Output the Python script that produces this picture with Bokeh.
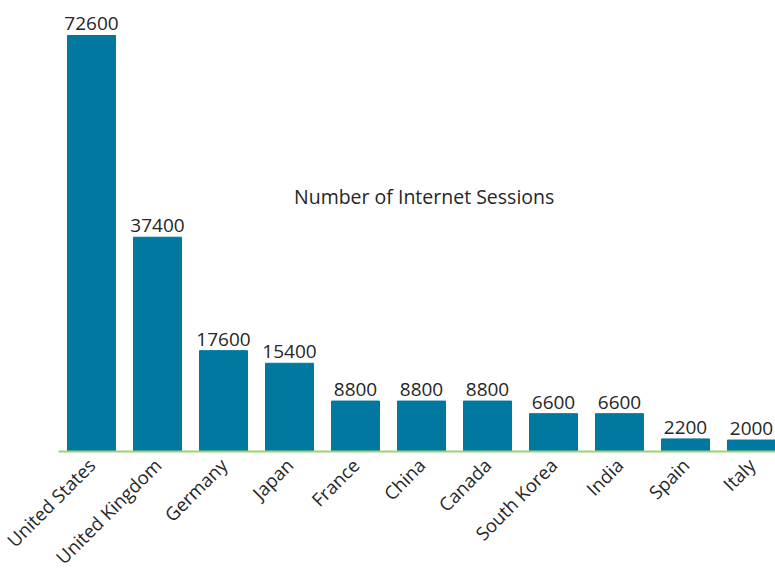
import math
from bokeh.plotting import figure
from bokeh.models import ColumnDataSource, FixedTicker, Range1d, Label, LabelSet
from bokeh.core.properties import value
from bokeh.embed import file_html
from bokeh.resources import INLINE

countries = ["United States", "United Kingdom", "Germany", "Japan", "France", "China",
             "Canada", "South Korea", "India", "Spain", "Italy"]
sessions = [72600, 37400, 17600, 15400, 8800, 8800, 8800, 6600, 6600, 2200, 2000]
title_text = "Number of Internet Sessions"

FONT = "Open Sans"
xs = list(range(len(countries)))
src = ColumnDataSource(dict(x=xs, y=sessions, lab=[str(v) for v in sessions]))

p = figure(frame_width=717, frame_height=443, output_backend="svg", toolbar_location=None,
           x_range=Range1d(-0.5, -0.5 + 717 / 66), y_range=Range1d(0, 77310),
           min_border_left=58, min_border_right=0, min_border_top=8, min_border_bottom=0)
p.outline_line_color = None
p.xgrid.visible = False
p.ygrid.visible = False
p.yaxis.visible = False
p.background_fill_color = "white"

p.vbar(x="x", top="y", width=48 / 66, source=src, color="#00789f")

p.add_layout(LabelSet(x="x", y="y", text="lab", source=src, text_align="center",
                      text_baseline="bottom", y_offset=5, text_font=value(FONT),
                      text_font_size="19px", text_color="#262626"))

p.add_layout(Label(x=5.04, y=44500, text=title_text, text_align="center",
                   text_baseline="middle", text_font=FONT, text_font_size="19.5px",
                   text_color="#262626"))

ax = p.xaxis[0]
ax.ticker = FixedTicker(ticks=xs)
ax.major_label_overrides = {i: c for i, c in enumerate(countries)}
ax.major_label_orientation = math.pi / 4
ax.major_label_text_font = FONT
ax.major_label_text_font_size = "18.5px"
ax.major_label_text_color = "#262626"
ax.major_tick_line_color = None
ax.minor_tick_line_color = None
ax.axis_line_color = "#9bd37a"
ax.axis_line_width = 2
ax.major_label_standoff = 4

open("out.html", "w").write(file_html(p, INLINE))
